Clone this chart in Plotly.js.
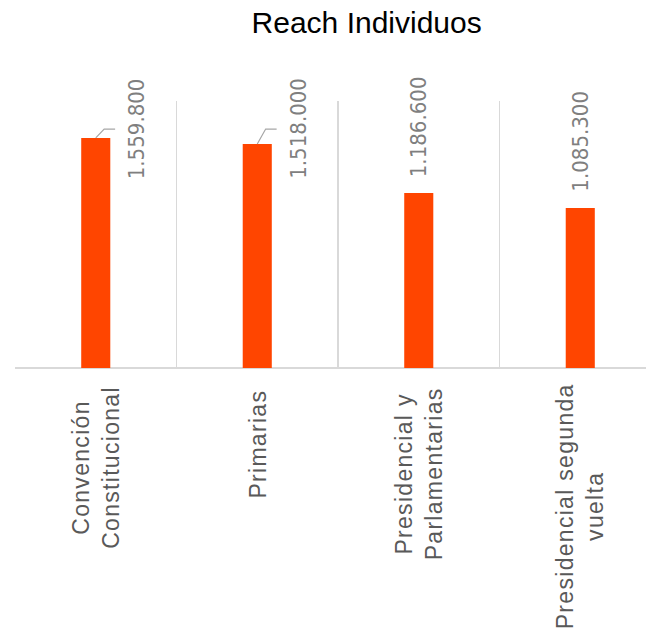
<!DOCTYPE html>
<html>
<head>
<meta charset="utf-8">
<script src="https://cdn.plot.ly/plotly-3.0.1.min.js"></script>
<style>
  html, body { margin: 0; padding: 0; background: #fff; }
  #chart { width: 646px; height: 635px; }
  .annotation[data-index="0"] text,
  .annotation[data-index="1"] text,
  .annotation[data-index="2"] text,
  .annotation[data-index="3"] text { letter-spacing: 1.3px; }
</style>
</head>
<body>
<div id="chart"></div>
<script>
// ---- data ----
const categories = [
  "Convención<br>Constitucional",
  "Primarias",
  "Presidencial y<br>Parlamentarias",
  "Presidencial segunda<br>vuelta"
];
const reach = [1559800, 1518000, 1186600, 1085300];
const offsetLabel = [true, true, false, false];

// ---- style ----
const BAR_COLOR = "#ff4500";
const GRID_COLOR = "#d9d9d9";
const LABEL_FONT = "Liberation Sans, Arial, sans-serif";
const NARROW_FONT = "Liberation Sans Narrow, DejaVu Sans Condensed, Arial Narrow, sans-serif";
const LEADER_Y = 1620000;

function fmt(v) {
  return String(v).replace(/\B(?=(\d{3})+(?!\d))/g, ".");
}

const idx = categories.map((c, i) => i);

const traces = [{
  type: "bar",
  x: idx,
  y: reach,
  width: 0.18,
  marker: { color: BAR_COLOR },
  hoverinfo: "skip"
}];

// leader lines for labels moved beside their bars
idx.forEach(i => {
  if (offsetLabel[i]) {
    traces.push({
      type: "scatter",
      mode: "lines",
      x: [i, i + 0.052, i + 0.12],
      y: [reach[i], LEADER_Y, LEADER_Y],
      line: { color: "#a6a6a6", width: 1.2 },
      hoverinfo: "skip",
      showlegend: false
    });
  }
});

const annotations = [];
// category labels (indices 0..3)
categories.forEach((c, i) => {
  annotations.push({
    x: i, xref: "x",
    y: 0, yref: "paper",
    yanchor: "top", xanchor: "center",
    yshift: -26,
    text: c,
    textangle: -90,
    align: "center",
    showarrow: false,
    font: { family: LABEL_FONT, size: 23, color: "#595959" }
  });
});
// value labels
reach.forEach((v, i) => {
  const a = {
    x: i, xref: "x",
    text: fmt(v),
    textangle: -90,
    showarrow: false,
    xanchor: "center",
    font: { family: NARROW_FONT, size: 22, color: "#7f7f7f" }
  };
  if (offsetLabel[i]) {
    a.y = 1; a.yref = "paper"; a.yanchor = "top"; a.yshift = 25; a.xshift = 41;
  } else {
    a.y = v; a.yref = "y"; a.yanchor = "bottom"; a.yshift = 14;
  }
  annotations.push(a);
});

const layout = {
  width: 646,
  height: 635,
  margin: { l: 15, r: 0, t: 101, b: 267, pad: 0 },
  paper_bgcolor: "#ffffff",
  plot_bgcolor: "#ffffff",
  showlegend: false,
  title: {
    text: "Reach Individuos",
    font: { family: LABEL_FONT, size: 30, color: "#000000" },
    x: 0.5676, xref: "container", xanchor: "center",
    y: 0.9638, yref: "container", yanchor: "middle"
  },
  xaxis: {
    type: "linear",
    range: [-0.5, 3.407],
    tickvals: [-0.5, 0.5, 1.5, 2.5, 3.5],
    showgrid: true,
    gridcolor: GRID_COLOR,
    gridwidth: 1.3,
    showticklabels: false,
    ticks: "",
    zeroline: false,
    showline: false,
    fixedrange: true
  },
  yaxis: {
    range: [0, 1810000],
    showgrid: false,
    showticklabels: false,
    ticks: "",
    zeroline: true,
    zerolinecolor: GRID_COLOR,
    zerolinewidth: 2,
    showline: false,
    fixedrange: true
  },
  annotations: annotations
};

Plotly.newPlot("chart", traces, layout, { displayModeBar: false, staticPlot: true });
</script>
</body>
</html>
